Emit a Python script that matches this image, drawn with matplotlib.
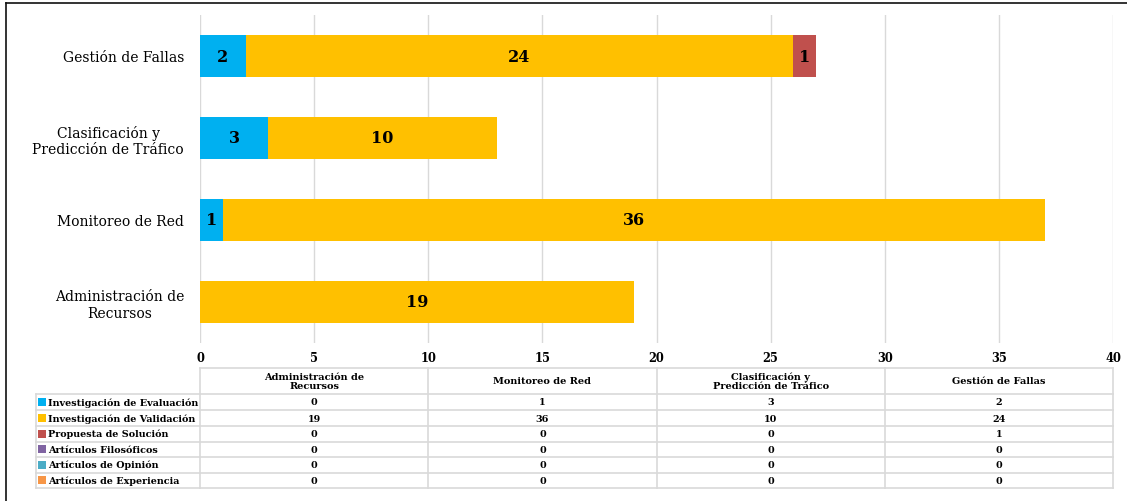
import matplotlib
matplotlib.use("Agg")
import matplotlib.pyplot as plt
from matplotlib.lines import Line2D
from matplotlib.patches import Rectangle
import matplotlib.transforms as mtransforms

categories = ["Administración de\nRecursos", "Monitoreo de Red",
              "Clasificación y\nPredicción de Tráfico", "Gestión de Fallas"]
series_names = ["Investigación de Evaluación", "Investigación de Validación",
                "Propuesta de Solución", "Artículos Filosóficos",
                "Artículos de Opinión", "Artículos de Experiencia"]
inv_evaluacion = [0, 1, 3, 2]
inv_validacion = [19, 36, 10, 24]
propuesta = [0, 0, 0, 1]
filosoficos = [0, 0, 0, 0]
opinion = [0, 0, 0, 0]
experiencia = [0, 0, 0, 0]
series_values = [inv_evaluacion, inv_validacion, propuesta, filosoficos, opinion, experiencia]
colors = ["#00B0F0", "#FFC000", "#C0504D", "#8064A2", "#4BACC6", "#F79646"]
xticks = [0, 5, 10, 15, 20, 25, 30, 35, 40]

FONT = "DejaVu Serif"
W, H = 1127, 502
fig = plt.figure(figsize=(W / 100, H / 100), dpi=100)
ax = fig.add_axes([200 / W, 1 - 344 / H, (1113 - 200) / W, (344 - 16) / H])

ypos = list(range(len(categories)))
left = [0] * len(categories)
for name, vals, col in zip(series_names, series_values, colors):
    bars = ax.barh(ypos, vals, left=left, height=0.51, color=col, zorder=3)
    for b, v in zip(bars, vals):
        if v > 0:
            ax.text(b.get_x() + b.get_width() / 2, b.get_y() + b.get_height() / 2,
                    str(v), ha="center", va="center", fontsize=11.5,
                    fontweight="bold", family=FONT, color="black", zorder=4)
    left = [l + v for l, v in zip(left, vals)]

ax.set_xlim(0, 40)
ax.set_ylim(-0.5, 3.5)
ax.set_xticks(xticks)
ax.set_xticklabels([str(t) for t in xticks], fontsize=8.3, fontweight="bold", family=FONT)
ax.set_yticks(ypos)
ax.set_yticklabels(categories, fontsize=10, family=FONT, multialignment="center")
ax.tick_params(axis="both", length=0)
ax.tick_params(axis="x", pad=6)
ax.tick_params(axis="y", pad=11.5)
for s in ax.spines.values():
    s.set_visible(False)
ax.xaxis.grid(True, color="#D9D9D9", linewidth=1.0, zorder=0)
ax.set_axisbelow(True)

# Table below: x in data coords, y in figure pixels (from top)
trans = mtransforms.blended_transform_factory(ax.transData, fig.transFigure)
figtr = fig.transFigure


def fy(p):
    return 1 - p / H


def fx(p):
    return p / W


line_col = "#D9D9D9"
header_top, header_bot = 369, 395
row_lines = [395, 411, 427, 442.5, 458, 473.5, 489]
col_edges = [0, 10, 20, 30, 40]

fig.add_artist(Line2D([0, 40], [fy(header_top)] * 2, transform=trans, color=line_col, lw=1.2))
for yl in row_lines:
    fig.add_artist(Line2D([fx(36), fx(200)], [fy(yl)] * 2, transform=figtr, color=line_col, lw=1.2))
    fig.add_artist(Line2D([0, 40], [fy(yl)] * 2, transform=trans, color=line_col, lw=1.2))
for ce in col_edges:
    fig.add_artist(Line2D([ce, ce], [fy(header_top), fy(row_lines[-1])], transform=trans,
                          color=line_col, lw=1.2))
fig.add_artist(Line2D([fx(36), fx(36)], [fy(row_lines[0]), fy(row_lines[-1])], transform=figtr,
                      color=line_col, lw=1.2))

for i, cat in enumerate(categories):
    xc = (col_edges[i] + col_edges[i + 1]) / 2
    fig.text(xc, fy((header_top + header_bot) / 2), cat, transform=trans, ha="center",
             va="center", fontsize=7, fontweight="bold", family=FONT, linespacing=1.0)

for r, (name, vals, col) in enumerate(zip(series_names, series_values, colors)):
    yc = (row_lines[r] + row_lines[r + 1]) / 2
    fig.add_artist(Rectangle((fx(38), fy(yc + 4)), 8 / W, 8 / H, transform=figtr,
                             facecolor=col, edgecolor="none"))
    fig.text(fx(48), fy(yc), name, transform=figtr, ha="left", va="center",
             fontsize=6.9, fontweight="bold", family=FONT)
    for i, v in enumerate(vals):
        xc = (col_edges[i] + col_edges[i + 1]) / 2
        fig.text(xc, fy(yc), str(v), transform=trans, ha="center", va="center",
                 fontsize=6.9, fontweight="bold", family=FONT)

fig.add_artist(Line2D([fx(6), 1], [fy(3.5)] * 2, transform=figtr, color="#111111", lw=1.2))
fig.add_artist(Line2D([fx(6), fx(6)], [fy(3.5), 0], transform=figtr, color="#111111", lw=1.2))

fig.savefig("out.png", dpi=100, facecolor="white")
